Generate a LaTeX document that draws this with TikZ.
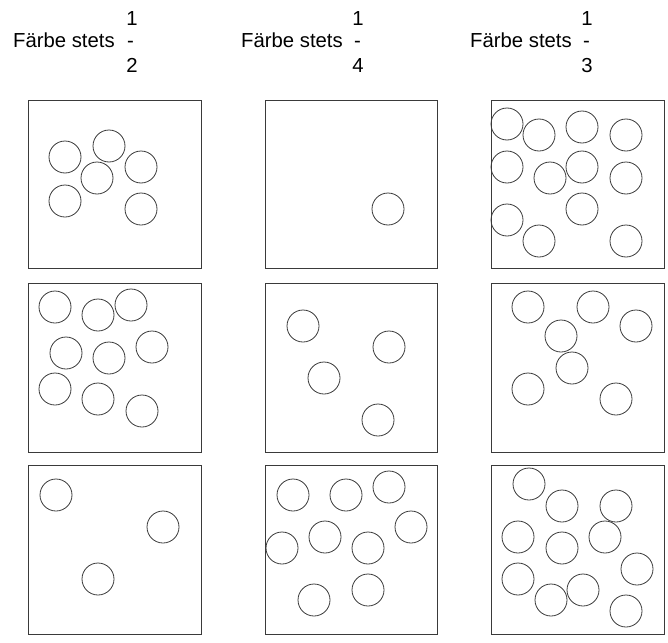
\documentclass[tikz,border=0pt]{standalone}
\usepackage{fontspec}
\setmainfont{Liberation Sans}
\usepackage{tikz}
\usetikzlibrary{positioning}
\usepackage{xcolor}
\definecolor{inkgray}{HTML}{3A3A3A}

\begin{document}
\begin{tikzpicture}[
  x=1pt, y=-1pt,
  font=\fontsize{20.3}{21}\selectfont,
  head/.style={anchor=base west, inner sep=0pt},
  digit/.style={anchor=base, inner sep=0pt},
  panel/.style={draw=inkgray, line width=0.9pt},
  ball/.style={draw=inkgray, line width=0.8pt}
]
\useasboundingbox (0,0) rectangle (668,642);

% headings with the stacked fractions
\node[head] (headA) at (13,48) {Färbe stets};
\node[head] (barA) at (127,48) {-};
\node[digit] (numA) at (132,26) {1};
\node[digit] (denA) at (132,72) {2};

\node[head] (headB) at (241,48) {Färbe stets};
\node[head] (barB) at (354,48) {-};
\node[digit] (numB) at (358,26) {1};
\node[digit] (denB) at (358,72) {4};

\node[head] (headC) at (470,48) {Färbe stets};
\node[head] (barC) at (583,48) {-};
\node[digit] (numC) at (587,26) {1};
\node[digit] (denC) at (587,72) {3};

% panels, row by row
\draw[panel] (28,100) rectangle (201,268);
\draw[panel] (265,100) rectangle (437,268);
\draw[panel] (491,100) rectangle (664,268);
\draw[panel] (28,283) rectangle (201,452);
\draw[panel] (265,283) rectangle (437,452);
\draw[panel] (491,283) rectangle (664,452);
\draw[panel] (28,465) rectangle (201,634);
\draw[panel] (265,465) rectangle (437,634);
\draw[panel] (491,465) rectangle (664,634);

% first row
\foreach \p in {(65,157),(109,146),(97,178),(141,167),(65,201),(141,209)}
  \draw[ball] \p circle[radius=16pt];
\foreach \p in {(388,209)}
  \draw[ball] \p circle[radius=16pt];
\foreach \p in {(507,124),(539,135),(582,127),(626,135),(507,167),(550,178),
                (582,167),(626,178),(507,220),(582,209),(539,241),(626,241)}
  \draw[ball] \p circle[radius=16pt];

% second row
\foreach \p in {(55,307),(98,315),(131,305),(66,353),(109,358),(152,347),
                (55,389),(98,399),(142,411)}
  \draw[ball] \p circle[radius=16pt];
\foreach \p in {(303,326),(389,347),(324,378),(378,420)}
  \draw[ball] \p circle[radius=16pt];
\foreach \p in {(528,307),(593,307),(636,326),(561,336),(572,368),(528,389),(616,399)}
  \draw[ball] \p circle[radius=16pt];

% third row
\foreach \p in {(56,495),(163,527),(98,579)}
  \draw[ball] \p circle[radius=16pt];
\foreach \p in {(293,495),(346,495),(389,487),(411,527),(282,548),(325,537),
                (368,548),(368,590),(314,600)}
  \draw[ball] \p circle[radius=16pt];
\foreach \p in {(529,484),(562,506),(616,506),(518,537),(562,548),(605,537),
                (637,569),(518,579),(551,600),(583,590),(626,611)}
  \draw[ball] \p circle[radius=16pt];

\end{tikzpicture}
\end{document}
